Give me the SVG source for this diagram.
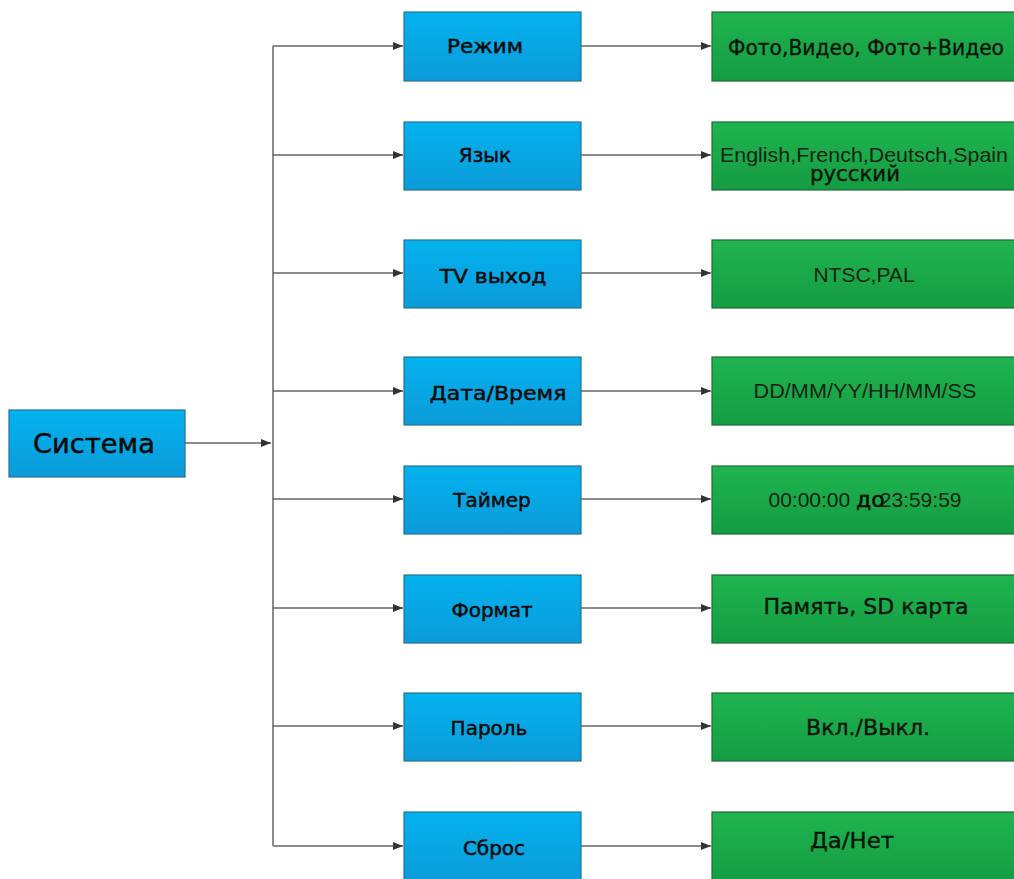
<svg xmlns="http://www.w3.org/2000/svg" width="1014" height="879" viewBox="0 0 1014 879">
<defs>
<linearGradient id="gb" x1="0" y1="0" x2="0" y2="1"><stop offset="0" stop-color="#03b2ee"/><stop offset="1" stop-color="#0b9bd9"/></linearGradient>
<linearGradient id="gg" x1="0" y1="0" x2="0" y2="1"><stop offset="0" stop-color="#20b450"/><stop offset="1" stop-color="#149c42"/></linearGradient>
<marker id="ah" markerWidth="10" markerHeight="8" refX="10" refY="4" orient="auto" markerUnits="userSpaceOnUse"><path d="M0,0 L10,4 L0,8 Z" fill="#333"/></marker>
<style>
.b{fill:url(#gb);stroke:#2a6f93;stroke-width:1.2}
.g{fill:url(#gg);stroke:#1c6b36;stroke-width:1.2}
.bt{font-family:"DejaVu Sans",Verdana,sans-serif;font-size:20px;fill:#0a0a0a;stroke:#0a0a0a;stroke-width:0.5;text-anchor:middle}
.gt{font-family:"Liberation Sans",Arial,sans-serif;font-size:21px;fill:#142414;text-anchor:middle}
.gc{font-family:"DejaVu Sans",Verdana,sans-serif;font-size:21px;fill:#0a140a;stroke:#0a140a;stroke-width:0.4;text-anchor:middle}
.c{stroke:#666;stroke-width:1.5;fill:none}
</style>
</defs>
<g id="connectors">
<path class="c" d="M185,443 H271" marker-end="url(#ah)"/>
<path class="c" d="M273,46 V846"/>
<path class="c" d="M273,46 H403" marker-end="url(#ah)"/>
<path class="c" d="M273,155 H403" marker-end="url(#ah)"/>
<path class="c" d="M273,273 H403" marker-end="url(#ah)"/>
<path class="c" d="M273,391 H403" marker-end="url(#ah)"/>
<path class="c" d="M273,499 H403" marker-end="url(#ah)"/>
<path class="c" d="M273,608 H403" marker-end="url(#ah)"/>
<path class="c" d="M273,726 H403" marker-end="url(#ah)"/>
<path class="c" d="M273,846 H403" marker-end="url(#ah)"/>
<path class="c" d="M581,46 H711" marker-end="url(#ah)"/>
<path class="c" d="M581,155 H711" marker-end="url(#ah)"/>
<path class="c" d="M581,273 H711" marker-end="url(#ah)"/>
<path class="c" d="M581,391 H711" marker-end="url(#ah)"/>
<path class="c" d="M581,499 H711" marker-end="url(#ah)"/>
<path class="c" d="M581,608 H711" marker-end="url(#ah)"/>
<path class="c" d="M581,726 H711" marker-end="url(#ah)"/>
<path class="c" d="M581,846 H711" marker-end="url(#ah)"/>
</g>
<g id="sistema"><rect class="b" x="9" y="410" width="176" height="67"/><text class="bt" x="94" y="453" style="font-size:27px" textLength="122" lengthAdjust="spacingAndGlyphs">Система</text></g>
<g id="rezhim"><rect class="b" x="404" y="12" width="177" height="69"/><text class="bt" x="485" y="53" textLength="76" lengthAdjust="spacingAndGlyphs">Режим</text></g>
<g id="yazyk"><rect class="b" x="404" y="122" width="177" height="68"/><text class="bt" x="485" y="162">Язык</text></g>
<g id="tv"><rect class="b" x="404" y="240" width="177" height="68"/><text class="bt" x="493" y="283" textLength="107" lengthAdjust="spacingAndGlyphs">TV выход</text></g>
<g id="data"><rect class="b" x="404" y="357" width="177" height="68"/><text class="bt" x="498" y="400" textLength="137" lengthAdjust="spacingAndGlyphs">Дата/Время</text></g>
<g id="taimer"><rect class="b" x="404" y="466" width="177" height="68"/><text class="bt" x="492" y="507">Таймер</text></g>
<g id="format"><rect class="b" x="404" y="575" width="177" height="68"/><text class="bt" x="492" y="617">Формат</text></g>
<g id="parol"><rect class="b" x="404" y="693" width="177" height="68"/><text class="bt" x="489" y="735">Пароль</text></g>
<g id="sbros"><rect class="b" x="404" y="812" width="177" height="72"/><text class="bt" x="494" y="855">Сброс</text></g>
<g id="g1"><rect class="g" x="712" y="12" width="308" height="69"/><text class="gc" x="866" y="55" style="font-size:22px" textLength="276" lengthAdjust="spacingAndGlyphs">Фото,Видео, Фото+Видео</text></g>
<g id="g2"><rect class="g" x="712" y="122" width="308" height="68"/><text class="gt" x="864" y="162" textLength="288" lengthAdjust="spacingAndGlyphs">English,French,Deutsch,Spain</text><text class="gc" x="855" y="181" textLength="90" lengthAdjust="spacingAndGlyphs">русский</text></g>
<g id="g3"><rect class="g" x="712" y="240" width="308" height="68"/><text class="gt" x="864" y="282">NTSC,PAL</text></g>
<g id="g4"><rect class="g" x="712" y="357" width="308" height="68"/><text class="gt" x="865" y="398" textLength="223" lengthAdjust="spacingAndGlyphs">DD/MM/YY/HH/MM/SS</text></g>
<g id="g5"><rect class="g" x="712" y="466" width="308" height="68"/><text class="gt" x="865" y="507">00:00:00 <tspan style="font-family:'DejaVu Sans',sans-serif;font-size:22px;fill:#050505;stroke:#050505;stroke-width:0.4">до</tspan><tspan dx="-5">23:59:59</tspan></text></g>
<g id="g6"><rect class="g" x="712" y="575" width="308" height="68"/><text class="gc" x="866" y="614" style="font-size:22px" textLength="205" lengthAdjust="spacingAndGlyphs">Память, SD карта</text></g>
<g id="g7"><rect class="g" x="712" y="693" width="308" height="68"/><text class="gc" x="868" y="735" style="font-size:22px" textLength="124" lengthAdjust="spacingAndGlyphs">Вкл./Выкл.</text></g>
<g id="g8"><rect class="g" x="712" y="812" width="308" height="72"/><text class="gc" x="852" y="848" style="font-size:22px" textLength="84" lengthAdjust="spacingAndGlyphs">Да/Нет</text></g>
</svg>
